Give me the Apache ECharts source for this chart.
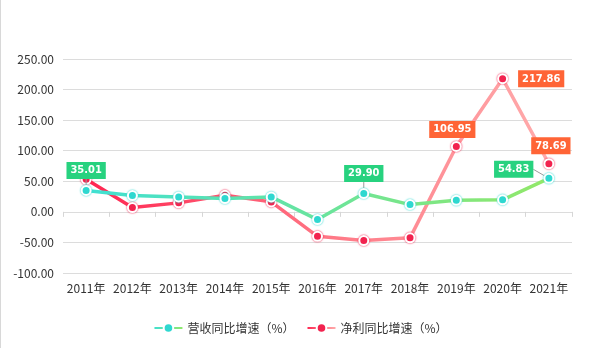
<!DOCTYPE html>
<html>
<head>
<meta charset="utf-8">
<script src="https://cdn.jsdelivr.net/npm/echarts@6/dist/echarts.min.js"></script>
<style>
  html, body { margin: 0; padding: 0; background: #fff; }
  #chart { width: 600px; height: 348px; box-sizing: border-box; border-left: 1px solid #d8d8d8; }
</style>
</head>
<body>
<div id="chart"></div>
<script>
// Year-on-year growth of revenue and net profit, 2011-2021
const years = ['2011年', '2012年', '2013年', '2014年', '2015年', '2016年', '2017年', '2018年', '2019年', '2020年', '2021年'];
const revenueGrowth = [35.01, 26.6, 24.5, 21.7, 24.5, -12.6, 29.90, 11.9, 19.0, 19.6, 54.83];
const profitGrowth = [53.3, 7.0, 14.7, 27.0, 16.3, -40.0, -47.0, -42.5, 106.95, 217.86, 78.69];
const seriesNames = ['营收同比增速（%）', '净利同比增速（%）'];
const yTicks = { min: -100, max: 250, step: 50 };

// Value boxes shown on selected points: [dataIndex, position, offset]
const revenueLabels = [[0, 'top', [-2, 3]], [6, 'top', [-6, 8]], [10, 'left', [0, 0]]];
const profitLabels = [[8, 'top', [-4, 3]], [9, 'right', [4, 0]], [10, 'top', [2, 2]]];

const FONT = "'Noto Sans CJK SC', 'Noto Sans', sans-serif";
const BOX_FONT = "'Liberation Sans Narrow', 'DejaVu Sans Condensed', 'Roboto Condensed', 'Roboto', sans-serif";

function boxLabel(bg, pos, offset) {
  return {
    show: true,
    position: pos,
    offset: offset,
    distance: 6,
    backgroundColor: bg,
    color: '#fff',
    fontFamily: BOX_FONT,
    fontWeight: 'bold',
    fontSize: 11,
    padding: [3, 4, 3, 4],
    formatter: p => p.value.toFixed(2)
  };
}

function buildData(values, labels, bg) {
  return values.map((v, i) => {
    const item = { value: v };
    const l = labels.find(x => x[0] === i);
    if (l) item.label = boxLabel(bg, l[1], l[2]);
    return item;
  });
}

function symbolStyle(color) {
  return {
    color: color,
    borderColor: '#fff',
    borderWidth: 2,
    shadowColor: color,
    shadowBlur: 2
  };
}

const chart = echarts.init(document.getElementById('chart'), null, { renderer: 'canvas' });

chart.setOption({
  animation: false,
  grid: { left: 62, right: 28, top: 59, bottom: 75, containLabel: false, outerBoundsMode: 'none' },
  legend: {
    bottom: 9,
    left: 'center',
    itemWidth: 28,
    itemHeight: 12,
    itemGap: 12,
    textStyle: { color: '#333', fontSize: 12, fontFamily: FONT },
    data: seriesNames
  },
  xAxis: {
    type: 'category',
    data: years,
    boundaryGap: true,
    axisLine: { show: true, onZero: true, lineStyle: { color: 'rgba(0,0,0,0)' } },
    axisTick: { show: true, interval: 0, length: 5, lineStyle: { color: '#d6d6d6' } },
    axisLabel: { color: '#333', fontSize: 12, margin: 9, interval: 0, fontFamily: FONT }
  },
  yAxis: {
    type: 'value',
    min: yTicks.min,
    max: yTicks.max,
    interval: yTicks.step,
    axisLine: { show: false },
    axisTick: { show: false },
    axisLabel: {
      color: '#333', fontSize: 12, margin: 9, fontFamily: FONT,
      formatter: v => v.toFixed(2)
    },
    splitLine: { lineStyle: { color: '#dcdcdc' } }
  },
  series: [
    {
      name: seriesNames[0],
      type: 'line',
      data: buildData(revenueGrowth, revenueLabels, '#27d27f'),
      symbol: 'circle',
      symbolSize: 9,
      z: 3,
      lineStyle: {
        width: 3.5,
        color: new echarts.graphic.LinearGradient(0, 0, 1, 0, [
          { offset: 0, color: '#3fe0d3' },
          { offset: 1, color: '#93e868' }
        ])
      },
      itemStyle: symbolStyle('#2fd8d0'),
      // last value box is lifted off its point and tied back with a leader line
      labelLayout: p => (p.dataIndex === revenueGrowth.length - 1 ? { dx: -4, dy: -9 } : {}),
      labelLine: { show: true, length2: 0, lineStyle: { color: '#999', width: 1 } }
    },
    {
      name: seriesNames[1],
      type: 'line',
      data: buildData(profitGrowth, profitLabels, '#ff6436'),
      symbol: 'circle',
      symbolSize: 9,
      z: 2,
      lineStyle: {
        width: 3.5,
        color: new echarts.graphic.LinearGradient(0, 0, 1, 0, [
          { offset: 0, color: '#ff2450' },
          { offset: 0.55, color: '#ff7b88' },
          { offset: 1, color: '#ffacac' }
        ])
      },
      itemStyle: symbolStyle('#f2234f')
    }
  ]
});
</script>
</body>
</html>
